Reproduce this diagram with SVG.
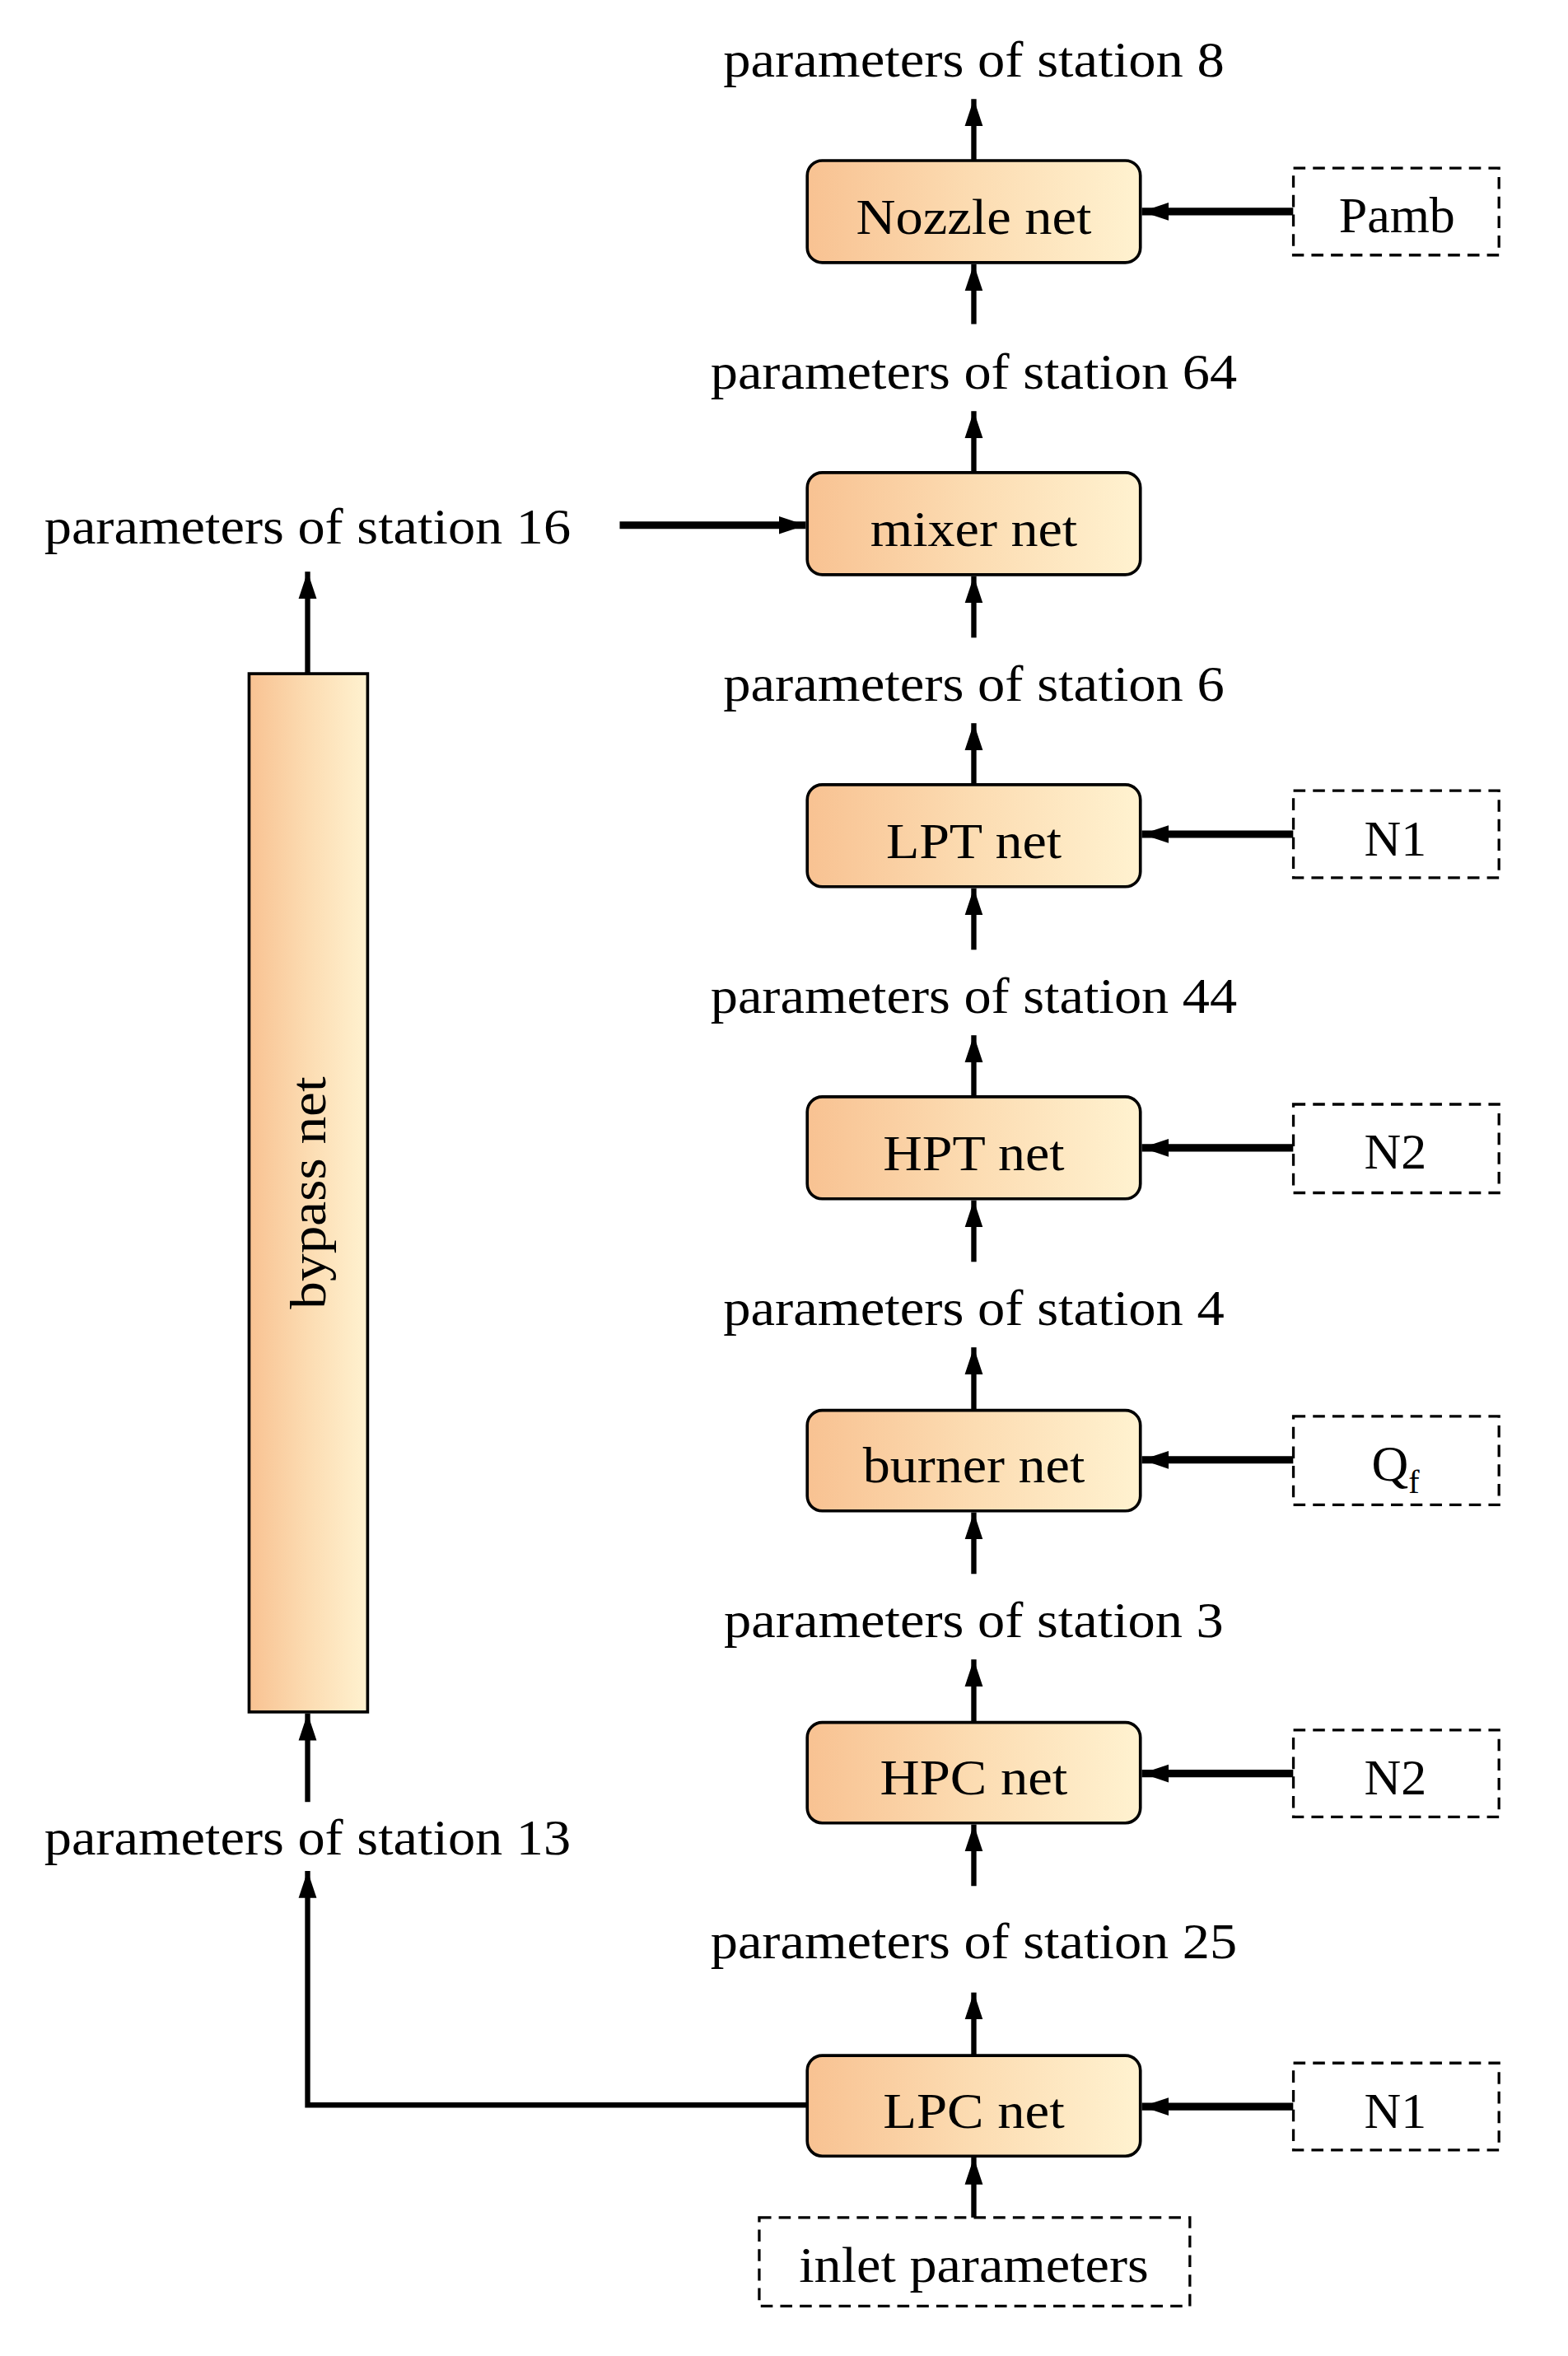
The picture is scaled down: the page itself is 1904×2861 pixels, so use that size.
<svg xmlns="http://www.w3.org/2000/svg" width="1904" height="2861" viewBox="0 0 1904 2861">
<defs>
<linearGradient id="g" x1="0" y1="0" x2="1" y2="0"><stop offset="0" stop-color="#f8c292"/><stop offset="0.5" stop-color="#fcdcb2"/><stop offset="1" stop-color="#fff2d0"/></linearGradient>
<marker id="a" markerUnits="userSpaceOnUse" markerWidth="20" markerHeight="20" viewBox="0 0 20 20" refX="18" refY="10" orient="auto"><path d="M0,4 L18,10 L0,16 Z" fill="#000"/></marker>
</defs>
<style>
text{font-family:"Liberation Serif","Times New Roman",serif;font-size:34px;fill:#000}
.n{fill:url(#g);stroke:#000;stroke-width:2}
.d{fill:#fff;stroke:#000;stroke-width:1.8;stroke-dasharray:8,5}
.c{stroke:#000;stroke-width:3.5;fill:none;marker-end:url(#a)}
.s{stroke:#000;stroke-width:5;fill:none;marker-end:url(#a)}
</style>
<rect width="1904" height="2861" fill="#fff"/>
<g transform="scale(1.822)">
<g id="connectors">
<path class="c" d="M649,107 V66"/>
<path class="c" d="M649,216 V176"/>
<path class="c" d="M649,315 V274"/>
<path class="c" d="M649,425 V384"/>
<path class="c" d="M649,523 V482"/>
<path class="c" d="M649,633 V592"/>
<path class="c" d="M649,731 V690"/>
<path class="c" d="M649,841 V800"/>
<path class="c" d="M649,940 V898"/>
<path class="c" d="M649,1049 V1008"/>
<path class="c" d="M649,1148 V1106"/>
<path class="c" d="M649,1257 V1216"/>
<path class="c" d="M649,1370 V1328"/>
<path class="c" d="M649,1478 V1438"/>
<path class="c" d="M205,449 V381"/>
<path class="c" d="M205,1201 V1142"/>
<path class="c" d="M538,1403 H205 V1247"/>
<path class="s" d="M413,350 H537"/>
<path class="s" d="M862,141 H761"/>
<path class="s" d="M862,556 H761"/>
<path class="s" d="M862,765 H761"/>
<path class="s" d="M862,973 H761"/>
<path class="s" d="M862,1182 H761"/>
<path class="s" d="M862,1404 H761"/>
</g>
<g id="nozzle"><rect class="n" x="538" y="107" width="222" height="68" rx="10"/><text x="649" y="156" text-anchor="middle" textLength="157" lengthAdjust="spacingAndGlyphs">Nozzle net</text></g>
<g id="mixer"><rect class="n" x="538" y="315" width="222" height="68" rx="10"/><text x="649" y="364" text-anchor="middle" textLength="138" lengthAdjust="spacingAndGlyphs">mixer net</text></g>
<g id="lpt"><rect class="n" x="538" y="523" width="222" height="68" rx="10"/><text x="649" y="572" text-anchor="middle" textLength="117" lengthAdjust="spacingAndGlyphs">LPT net</text></g>
<g id="hpt"><rect class="n" x="538" y="731" width="222" height="68" rx="10"/><text x="649" y="780" text-anchor="middle" textLength="121" lengthAdjust="spacingAndGlyphs">HPT net</text></g>
<g id="burner"><rect class="n" x="538" y="940" width="222" height="67" rx="10"/><text x="649" y="988" text-anchor="middle" textLength="148" lengthAdjust="spacingAndGlyphs">burner net</text></g>
<g id="hpc"><rect class="n" x="538" y="1148" width="222" height="67" rx="10"/><text x="649" y="1196" text-anchor="middle" textLength="125" lengthAdjust="spacingAndGlyphs">HPC net</text></g>
<g id="lpc"><rect class="n" x="538" y="1370" width="222" height="67" rx="10"/><text x="649" y="1418" text-anchor="middle" textLength="121" lengthAdjust="spacingAndGlyphs">LPC net</text></g>
<g id="bypass"><rect class="n" x="166" y="449" width="79" height="692"/><text transform="translate(217,795) rotate(-90)" text-anchor="middle" textLength="155" lengthAdjust="spacingAndGlyphs">bypass net</text></g>
<g id="pamb"><rect class="d" x="862" y="112" width="137" height="58"/><text x="931" y="155" text-anchor="middle">Pamb</text></g>
<g id="n1a"><rect class="d" x="862" y="527" width="137" height="58"/><text x="930" y="570" text-anchor="middle">N1</text></g>
<g id="n2a"><rect class="d" x="862" y="736" width="137" height="59"/><text x="930" y="779" text-anchor="middle">N2</text></g>
<g id="qf"><rect class="d" x="862" y="944" width="137" height="59"/><text x="930" y="987" text-anchor="middle">Q<tspan font-size="22" dy="8">f</tspan></text></g>
<g id="n2b"><rect class="d" x="862" y="1153" width="137" height="58"/><text x="930" y="1196" text-anchor="middle">N2</text></g>
<g id="n1b"><rect class="d" x="862" y="1375" width="137" height="58"/><text x="930" y="1418" text-anchor="middle">N1</text></g>
<g id="inlet"><rect class="d" x="506" y="1478" width="287" height="59"/><text x="649" y="1521" text-anchor="middle" textLength="233" lengthAdjust="spacingAndGlyphs">inlet parameters</text></g>
<g id="labels">
<text x="649" y="51" text-anchor="middle" textLength="334" lengthAdjust="spacingAndGlyphs">parameters of station 8</text>
<text x="649" y="259" text-anchor="middle" textLength="351" lengthAdjust="spacingAndGlyphs">parameters of station 64</text>
<text x="649" y="467" text-anchor="middle" textLength="334" lengthAdjust="spacingAndGlyphs">parameters of station 6</text>
<text x="649" y="675" text-anchor="middle" textLength="351" lengthAdjust="spacingAndGlyphs">parameters of station 44</text>
<text x="649" y="883" text-anchor="middle" textLength="334" lengthAdjust="spacingAndGlyphs">parameters of station 4</text>
<text x="649" y="1091" text-anchor="middle" textLength="333" lengthAdjust="spacingAndGlyphs">parameters of station 3</text>
<text x="649" y="1305" text-anchor="middle" textLength="351" lengthAdjust="spacingAndGlyphs">parameters of station 25</text>
<text x="205" y="362" text-anchor="middle" textLength="351" lengthAdjust="spacingAndGlyphs">parameters of station 16</text>
<text x="205" y="1236" text-anchor="middle" textLength="351" lengthAdjust="spacingAndGlyphs">parameters of station 13</text>
</g>
</g>
</svg>
